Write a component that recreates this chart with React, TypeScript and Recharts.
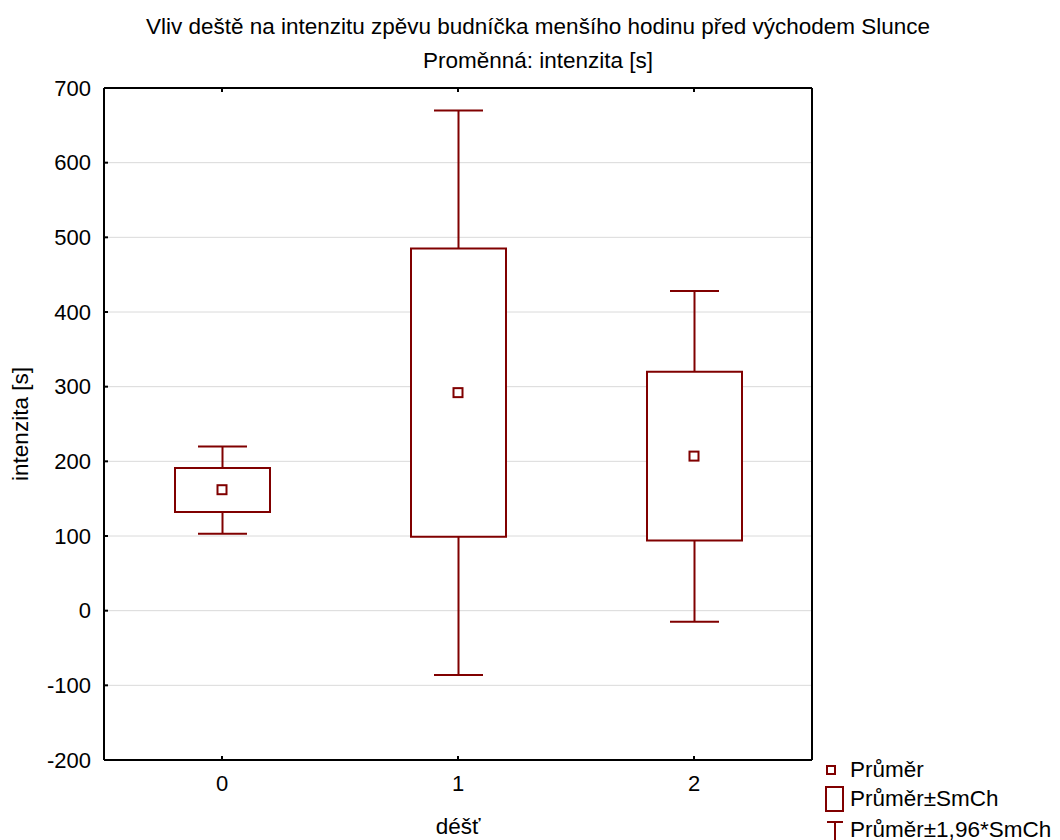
import { ComposedChart, Bar, Scatter, XAxis, YAxis, CartesianGrid } from 'recharts';

const categories = ['0', '1', '2'];
const means = [162, 292, 207];
const seLow = [132, 99, 94];
const seHigh = [191, 485, 320];
const ciLow = [103, -86, -15];
const ciHigh = [220, 670, 428];
const yTicks = [-200, -100, 0, 100, 200, 300, 400, 500, 600, 700];

const data = categories.map((c, i) => ({
  cat: c,
  mean: means[i],
  box: [seLow[i], seHigh[i]],
  whisker: [ciLow[i], ciHigh[i]],
}));

const RED = '#800000';
const FONT = '"Liberation Sans", Arial, sans-serif';
const tickStyle = { fill: '#000', fontSize: 22, fontFamily: FONT };
const frame = { stroke: '#000', strokeWidth: 2 };

const WhiskerShape = (props: any) => {
  const { x, y, width, height } = props;
  const cx = x + width / 2;
  return (
    <g stroke={RED} strokeWidth={2} fill="none">
      <line x1={cx} y1={y} x2={cx} y2={y + height} />
      <line x1={x} y1={y} x2={x + width} y2={y} />
      <line x1={x} y1={y + height} x2={x + width} y2={y + height} />
    </g>
  );
};

const MeanShape = (props: any) => {
  const { cx, cy } = props;
  return <rect x={cx - 4.5} y={cy - 4.5} width={9} height={9} fill="#fff" stroke={RED} strokeWidth={2} />;
};

export default function App() {
  return (
    <div style={{ position: 'absolute', left: 0, top: 0, width: 1060, height: 840, background: '#fff', fontFamily: FONT }}>
      <div style={{ position: 'absolute', left: 0, width: 1076, top: 13, textAlign: 'center', fontSize: 22.5, lineHeight: '28px' }}>
        Vliv deště na intenzitu zpěvu budníčka menšího hodinu před východem Slunce
      </div>
      <div style={{ position: 'absolute', left: 0, width: 1076, top: 47, textAlign: 'center', fontSize: 22.5, lineHeight: '28px' }}>
        Proměnná: intenzita [s]
      </div>

      <ComposedChart width={1060} height={840} data={data} margin={{ top: 87, right: 247, bottom: 0, left: 0 }}>
        <CartesianGrid vertical={false} stroke="#dadada" xAxisId="a" yAxisId="l" />
        <XAxis xAxisId="a" dataKey="cat" height={80} tick={tickStyle} tickSize={-4} tickMargin={19}
          axisLine={frame} tickLine={frame}
          label={{ value: 'déšť', position: 'insideBottom', offset: 6, fill: '#000', fontSize: 22.5, fontFamily: FONT }} />
        <XAxis xAxisId="b" dataKey="cat" hide />
        <XAxis xAxisId="top" dataKey="cat" orientation="top" height={1} tickSize={-4} tickFormatter={() => ''}
          axisLine={frame} tickLine={frame} />
        <YAxis yAxisId="l" domain={[-200, 700]} ticks={yTicks} width={104} tick={tickStyle} tickSize={-4} tickMargin={17}
          axisLine={frame} tickLine={frame}
          label={{ value: 'intenzita [s]', angle: -90, position: 'insideLeft', offset: 20, fill: '#000', fontSize: 22.5, fontFamily: FONT, style: { textAnchor: 'middle' } }} />
        <YAxis yAxisId="r" orientation="right" domain={[-200, 700]} ticks={yTicks} width={1} tickSize={-4} tickFormatter={() => ''}
          axisLine={frame} tickLine={frame} />
        <Bar xAxisId="b" yAxisId="l" dataKey="whisker" barSize={49} shape={WhiskerShape} isAnimationActive={false} />
        <Bar xAxisId="a" yAxisId="l" dataKey="box" barSize={95} fill="#fff" stroke={RED} strokeWidth={2} isAnimationActive={false} />
        <Scatter xAxisId="a" yAxisId="l" dataKey="mean" shape={MeanShape} isAnimationActive={false} />
      </ComposedChart>

      <div style={{ position: 'absolute', left: 824, top: 757, fontSize: 22.5, lineHeight: '30px' }}>
        <div style={{ display: 'flex', alignItems: 'center', height: 26 }}>
          <svg width={22} height={20}><rect x={3} y={6} width={8} height={8} fill="#fff" stroke={RED} strokeWidth={2} /></svg>
          <span style={{ marginLeft: 4 }}>Průměr</span>
        </div>
        <div style={{ display: 'flex', alignItems: 'center', height: 32 }}>
          <svg width={22} height={28}><rect x={2} y={2} width={17} height={24} fill="#fff" stroke={RED} strokeWidth={2} /></svg>
          <span style={{ marginLeft: 4 }}>Průměr±SmCh</span>
        </div>
        <div style={{ display: 'flex', alignItems: 'center', height: 30 }}>
          <svg width={22} height={28}><g stroke={RED} strokeWidth={2}><line x1={3} y1={6} x2={19} y2={6} /><line x1={11} y1={6} x2={11} y2={28} /></g></svg>
          <span style={{ marginLeft: 4 }}>Průměr±1,96*SmCh</span>
        </div>
      </div>
    </div>
  );
}
